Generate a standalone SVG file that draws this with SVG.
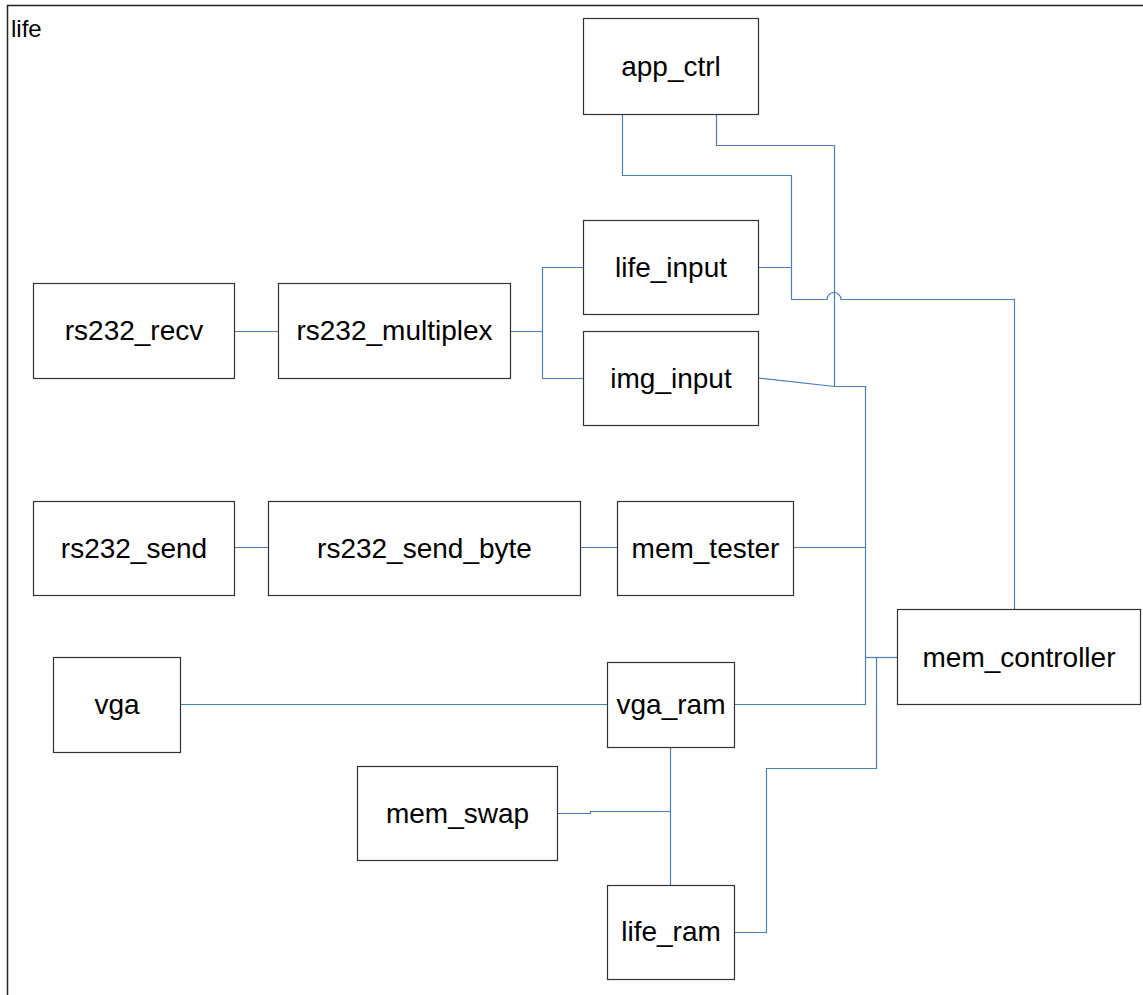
<svg xmlns="http://www.w3.org/2000/svg" width="1143" height="995" viewBox="0 0 1143 995">
<style>
.box{fill:#fff;stroke:#333;stroke-width:1.2}
.lbl{font-family:"Liberation Sans",Arial,sans-serif;font-size:28px;fill:#000;text-anchor:middle}
.con{fill:none;stroke:#4a7ebb;stroke-width:1.2}
</style>
<rect x="0" y="0" width="1143" height="995" fill="#fff"/>
<g id="frame">
<rect x="7.5" y="5.5" width="1300" height="1200" fill="none" stroke="#222" stroke-width="1.5"/>
<text x="11" y="37" font-family="Liberation Sans,Arial,sans-serif" font-size="24" fill="#000">life</text>
</g>
<g id="connectors">
<path class="con" d="M622.5,114 V175.5 H791.5 V299.5 H827 A7 7 0 0 1 841 299.5 H1014.5 V609"/>
<path class="con" d="M758,267.5 H791.5"/>
<path class="con" d="M716.5,114 V145.5 H834.5 V386.5 H865.5 V657.5"/>
<path class="con" d="M758,378 L834.5,386.5"/>
<path class="con" d="M793,547.5 H865.5"/>
<path class="con" d="M734,704.5 H865.5 V657.5"/>
<path class="con" d="M734,932.5 H766.5 V768.5 H876.5 V657.5"/>
<path class="con" d="M865.5,657.5 H897" stroke-width="2.2"/>
<path class="con" d="M235,331.5 H278"/>
<path class="con" d="M511,331.5 H542.5 V267.5 H583"/>
<path class="con" d="M542.5,331.5 V378.5 H583"/>
<path class="con" d="M235,547.5 H268"/>
<path class="con" d="M580,547.5 H617"/>
<path class="con" d="M180,704.5 H607"/>
<path class="con" d="M670.5,747 V885"/>
<path class="con" d="M558,813.5 H590.5 V811.5 H670.5"/>
</g>
<g id="app_ctrl"><rect class="box" x="583.5" y="18.5" width="175" height="96"/><text class="lbl" x="671" y="76">app_ctrl</text></g>
<g id="life_input"><rect class="box" x="583.5" y="220.5" width="175" height="94"/><text class="lbl" x="671" y="277">life_input</text></g>
<g id="img_input"><rect class="box" x="583.5" y="331.5" width="175" height="94"/><text class="lbl" x="671" y="388">img_input</text></g>
<g id="rs232_recv"><rect class="box" x="33.5" y="283.5" width="201" height="95"/><text class="lbl" x="134" y="340">rs232_recv</text></g>
<g id="rs232_multiplex"><rect class="box" x="278.5" y="283.5" width="232" height="95"/><text class="lbl" x="394.5" y="340">rs232_multiplex</text></g>
<g id="rs232_send"><rect class="box" x="33.5" y="501.5" width="201" height="94"/><text class="lbl" x="134" y="558">rs232_send</text></g>
<g id="rs232_send_byte"><rect class="box" x="268.5" y="501.5" width="312" height="94"/><text class="lbl" x="424.5" y="558">rs232_send_byte</text></g>
<g id="mem_tester"><rect class="box" x="617.5" y="501.5" width="176" height="94"/><text class="lbl" x="705.5" y="558">mem_tester</text></g>
<g id="mem_controller"><rect class="box" x="897.5" y="609.5" width="243" height="95"/><text class="lbl" x="1019" y="667">mem_controller</text></g>
<g id="vga"><rect class="box" x="53.5" y="657.5" width="127" height="95"/><text class="lbl" x="117" y="714">vga</text></g>
<g id="vga_ram"><rect class="box" x="607.5" y="662.5" width="127" height="85"/><text class="lbl" x="671" y="714">vga_ram</text></g>
<g id="mem_swap"><rect class="box" x="357.5" y="766.5" width="200" height="94"/><text class="lbl" x="457.5" y="823">mem_swap</text></g>
<g id="life_ram"><rect class="box" x="607.5" y="885.5" width="127" height="94"/><text class="lbl" x="671" y="941">life_ram</text></g>
</svg>
